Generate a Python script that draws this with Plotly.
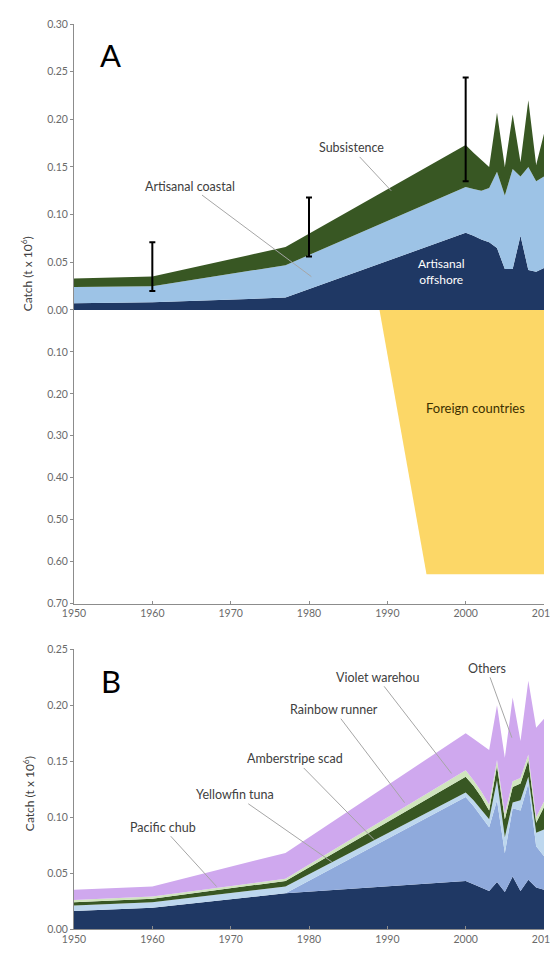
import plotly.graph_objects as go

# ---- Panel A data (catch, t x 10^6) ----
years_a = [1950, 1960, 1977, 2000, 2001, 2002, 2003, 2004, 2005, 2006, 2007, 2008, 2009, 2010]
artisanal_offshore = [0.007, 0.008, 0.013, 0.081, 0.078, 0.074, 0.071, 0.065, 0.043, 0.043, 0.078, 0.042, 0.040, 0.044]
artisanal_coastal = [0.017, 0.017, 0.034, 0.048, 0.049, 0.051, 0.057, 0.080, 0.077, 0.105, 0.062, 0.108, 0.095, 0.096]
subsistence = [0.009, 0.010, 0.019, 0.044, 0.038, 0.033, 0.022, 0.062, 0.030, 0.057, 0.015, 0.070, 0.017, 0.045]

err_years = [1960, 1980, 2000]
err_low = [0.020, 0.056, 0.135]
err_mid = [0.036, 0.071, 0.173]
err_high = [0.071, 0.118, 0.244]

foreign_years = [1989, 1995, 2010]
foreign_catch = [0.0, 0.63, 0.63]

# ---- Panel B data ----
years_b = [1950, 1960, 1977, 2000, 2001, 2002, 2003, 2004, 2005, 2006, 2007, 2008, 2009, 2010]
pacific_chub = [0.016, 0.019, 0.032, 0.043, 0.040, 0.037, 0.034, 0.042, 0.033, 0.047, 0.034, 0.044, 0.037, 0.035]
yellowfin_tuna = [0.0, 0.0, 0.0, 0.075, 0.070, 0.064, 0.057, 0.073, 0.035, 0.061, 0.072, 0.086, 0.037, 0.030]
amberstripe_scad = [0.005, 0.005, 0.006, 0.004, 0.005, 0.006, 0.007, 0.018, 0.014, 0.005, 0.009, 0.006, 0.012, 0.024]
rainbow_runner = [0.003, 0.003, 0.005, 0.014, 0.013, 0.011, 0.008, 0.013, 0.016, 0.014, 0.015, 0.015, 0.009, 0.020]
violet_warehou = [0.002, 0.002, 0.002, 0.006, 0.005, 0.005, 0.005, 0.005, 0.005, 0.005, 0.005, 0.005, 0.005, 0.005]
others = [0.009, 0.009, 0.023, 0.033, 0.037, 0.042, 0.049, 0.049, 0.050, 0.075, 0.033, 0.066, 0.080, 0.074]

year_ticks = [1950, 1960, 1970, 1980, 1990, 2000, 2010]

NAVY = "#1f3864"
GREEN = "#385723"
FONT = "Lato"
TICK_FONT = dict(family=FONT, size=10.5, color="#6a6a6a")
AXIS_GREY = "#8c8c8c"

fig = go.Figure()


def add_layer(x, y, color, xaxis, yaxis, group):
    fig.add_trace(go.Scatter(
        x=x, y=y, mode="lines", stackgroup=group, fillcolor=color,
        line=dict(width=0, color=color), xaxis=xaxis, yaxis=yaxis,
        showlegend=False, hoverinfo="skip",
    ))


add_layer(years_a, artisanal_offshore, NAVY, "x", "y", "a")
add_layer(years_a, artisanal_coastal, "#9dc3e6", "x", "y", "a")
add_layer(years_a, subsistence, GREEN, "x", "y", "a")

fig.add_trace(go.Scatter(
    x=err_years, y=err_mid, mode="markers", marker=dict(size=1, color="rgba(0,0,0,0)"),
    error_y=dict(type="data", symmetric=False,
                 array=[h - m for h, m in zip(err_high, err_mid)],
                 arrayminus=[m - l for m, l in zip(err_mid, err_low)],
                 color="black", thickness=2, width=3),
    xaxis="x", yaxis="y", showlegend=False, hoverinfo="skip",
))

fig.add_trace(go.Scatter(
    x=foreign_years, y=foreign_catch, mode="lines", fill="tozeroy",
    fillcolor="#fcd767", line=dict(width=0, color="#fcd767"),
    xaxis="x", yaxis="y2", showlegend=False, hoverinfo="skip",
))

add_layer(years_b, pacific_chub, NAVY, "x2", "y3", "b")
add_layer(years_b, yellowfin_tuna, "#8faadc", "x2", "y3", "b")
add_layer(years_b, amberstripe_scad, "#bdd7ee", "x2", "y3", "b")
add_layer(years_b, rainbow_runner, GREEN, "x2", "y3", "b")
add_layer(years_b, violet_warehou, "#cfe5bd", "x2", "y3", "b")
add_layer(years_b, others, "#cfa8ee", "x2", "y3", "b")

xcommon = dict(range=[1950, 2010], tickvals=year_ticks, showline=True, linecolor=AXIS_GREY,
               linewidth=1, ticks="inside", ticklen=3, tickcolor=AXIS_GREY,
               showgrid=False, zeroline=False, tickfont=TICK_FONT, ticklabeloverflow="allow")
ycommon = dict(showline=True, linecolor=AXIS_GREY, linewidth=1, ticks="outside", ticklen=3,
               tickcolor=AXIS_GREY, showgrid=False, zeroline=False, tickfont=TICK_FONT,
               tickformat=".2f")

# page body adds an 8px offset; plot area kept at x 74..545, y 18..930 on screen
fig.update_layout(
    width=558, height=947,
    margin=dict(l=66, r=21, t=10, b=25),
    paper_bgcolor="white", plot_bgcolor="white",
    font=dict(family=FONT, color="#404040"),
    xaxis=dict(domain=[0, 1], anchor="y2", **xcommon),
    yaxis=dict(domain=[0.684, 1], range=[0, 0.30], anchor="x",
               tickvals=[0, 0.05, 0.10, 0.15, 0.20, 0.25, 0.30], **ycommon),
    yaxis2=dict(domain=[0.3596, 0.684], range=[0.70, 0], anchor="x",
                tickvals=[0.1, 0.2, 0.3, 0.4, 0.5, 0.6, 0.7], **ycommon),
    xaxis2=dict(domain=[0, 1], anchor="y3", **xcommon),
    yaxis3=dict(domain=[0, 0.309], range=[0, 0.25], anchor="x2",
                tickvals=[0, 0.05, 0.10, 0.15, 0.20, 0.25], **ycommon),
)

LABEL_FONT = dict(family=FONT, size=12.5, color="#404040")
LEADER = dict(showarrow=True, arrowhead=0, arrowwidth=1, arrowcolor="#a6a6a6")
TITLE_FONT = dict(family=FONT, size=12, color="#404040")

annotations = [
    dict(x=1954.6, y=0.267, xref="x", yref="y", text="A", showarrow=False,
         font=dict(family=FONT, size=31, color="black")),
    dict(x=1990.5, y=0.125, ax=1985.4, ay=0.170, xref="x", yref="y", axref="x", ayref="y",
         text="Subsistence", font=LABEL_FONT, **LEADER),
    dict(x=1980.3, y=0.035, ax=1964.8, ay=0.130, xref="x", yref="y", axref="x", ayref="y",
         text="Artisanal coastal", font=LABEL_FONT, **LEADER),
    dict(x=1996.9, y=0.040, xref="x", yref="y", text="Artisanal<br>offshore", showarrow=False,
         font=dict(family=FONT, size=12, color="white")),
    dict(x=2001.3, y=0.233, xref="x", yref="y2", text="Foreign countries", showarrow=False,
         font=dict(family=FONT, size=13, color="#3d3000")),
    dict(x=1954.7, y=0.222, xref="x2", yref="y3", text="B", showarrow=False,
         font=dict(family=FONT, size=31, color="black")),
    dict(x=1998.2, y=0.139, ax=1988.7, ay=0.225, xref="x2", yref="y3", axref="x2", ayref="y3",
         text="Violet warehou", font=LABEL_FONT, **LEADER),
    dict(x=1992.2, y=0.113, ax=1983.2, ay=0.196, xref="x2", yref="y3", axref="x2", ayref="y3",
         text="Rainbow runner", font=LABEL_FONT, **LEADER),
    dict(x=1988.3, y=0.080, ax=1978.2, ay=0.152, xref="x2", yref="y3", axref="x2", ayref="y3",
         text="Amberstripe scad", font=LABEL_FONT, **LEADER),
    dict(x=1982.9, y=0.060, ax=1970.6, ay=0.120, xref="x2", yref="y3", axref="x2", ayref="y3",
         text="Yellowfin tuna", font=LABEL_FONT, **LEADER),
    dict(x=1968.2, y=0.038, ax=1961.3, ay=0.091, xref="x2", yref="y3", axref="x2", ayref="y3",
         text="Pacific chub", font=LABEL_FONT, **LEADER),
    dict(x=2005.9, y=0.171, ax=2002.7, ay=0.233, xref="x2", yref="y3", axref="x2", ayref="y3",
         text="Others", font=LABEL_FONT, **LEADER),
    dict(x=-0.101, y=0.724, xref="paper", yref="paper", xanchor="center", yanchor="middle",
         text="Catch (t x 10<sup>6</sup>)", textangle=-90, showarrow=False, font=TITLE_FONT),
    dict(x=-0.096, y=0.150, xref="paper", yref="paper", xanchor="center", yanchor="middle",
         text="Catch (t x 10<sup>6</sup>)", textangle=-90, showarrow=False, font=TITLE_FONT),
]
fig.update_layout(annotations=annotations)

fig.write_html("out.html")
